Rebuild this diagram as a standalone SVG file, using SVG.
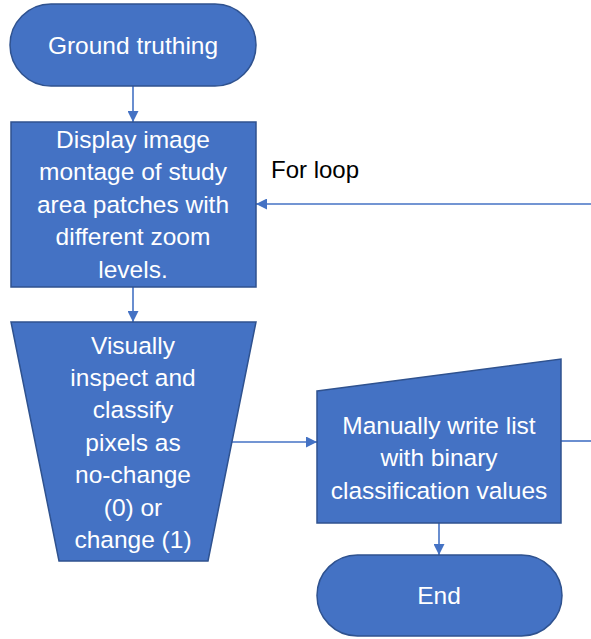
<svg xmlns="http://www.w3.org/2000/svg" width="591" height="639" viewBox="0 0 591 639">
  <defs>
    <style>
      .shape { fill: #4472C4; stroke: #2F528F; stroke-width: 1.5; }
      .label { fill: #FFFFFF; font-family: "Liberation Sans", Arial, sans-serif; font-size: 24.5px; text-anchor: middle; }
      .note { fill: #000000; font-family: "Liberation Sans", Arial, sans-serif; font-size: 24px; }
      .link { stroke: #4472C4; stroke-width: 1.6; fill: none; }
    </style>
    <marker id="arrow" viewBox="0 0 10 10" refX="10" refY="5" markerWidth="11" markerHeight="11" markerUnits="userSpaceOnUse" orient="auto">
      <path d="M0,0 L10,5 L0,10 Z" fill="#4472C4"/>
    </marker>
  </defs>

  <!-- connectors -->
  <g id="connectors">
    <line class="link" x1="133" y1="86" x2="133" y2="122" marker-end="url(#arrow)"/>
    <line class="link" x1="133" y1="287" x2="133" y2="322" marker-end="url(#arrow)"/>
    <line class="link" x1="231" y1="442" x2="317" y2="442" marker-end="url(#arrow)"/>
    <line class="link" x1="439" y1="523" x2="439" y2="555" marker-end="url(#arrow)"/>
    <line class="link" x1="561" y1="441" x2="591" y2="441"/>
    <line class="link" x1="591" y1="204" x2="256" y2="204" marker-end="url(#arrow)"/>
    <text class="note" x="271" y="178">For loop</text>
  </g>

  <!-- start terminator -->
  <g id="start">
    <rect class="shape" x="10" y="4" width="246" height="82" rx="41" ry="41"/>
    <text class="label" x="133" y="54">Ground truthing</text>
  </g>

  <!-- montage process -->
  <g id="display-montage">
    <rect class="shape" x="11" y="122" width="245" height="165"/>
    <text class="label" x="133" y="148">Display image</text>
    <text class="label" x="133" y="180">montage of study</text>
    <text class="label" x="133" y="213">area patches with</text>
    <text class="label" x="133" y="245">different zoom</text>
    <text class="label" x="133" y="278">levels.</text>
  </g>

  <!-- manual operation -->
  <g id="inspect-classify">
    <polygon class="shape" points="11,322 256,322 208,561 59,561"/>
    <text class="label" x="133" y="354">Visually</text>
    <text class="label" x="133" y="386">inspect and</text>
    <text class="label" x="133" y="418">classify</text>
    <text class="label" x="133" y="451">pixels as</text>
    <text class="label" x="133" y="483">no-change</text>
    <text class="label" x="133" y="516">(0) or</text>
    <text class="label" x="133" y="548">change (1)</text>
  </g>

  <!-- manual input -->
  <g id="write-list">
    <polygon class="shape" points="317,391 561,359 561,523 317,523"/>
    <text class="label" x="439" y="434">Manually write list</text>
    <text class="label" x="439" y="466">with binary</text>
    <text class="label" x="439" y="499">classification values</text>
  </g>

  <!-- end terminator -->
  <g id="end">
    <rect class="shape" x="317" y="555" width="245" height="81" rx="40.5" ry="40.5"/>
    <text class="label" x="439" y="604">End</text>
  </g>
</svg>
